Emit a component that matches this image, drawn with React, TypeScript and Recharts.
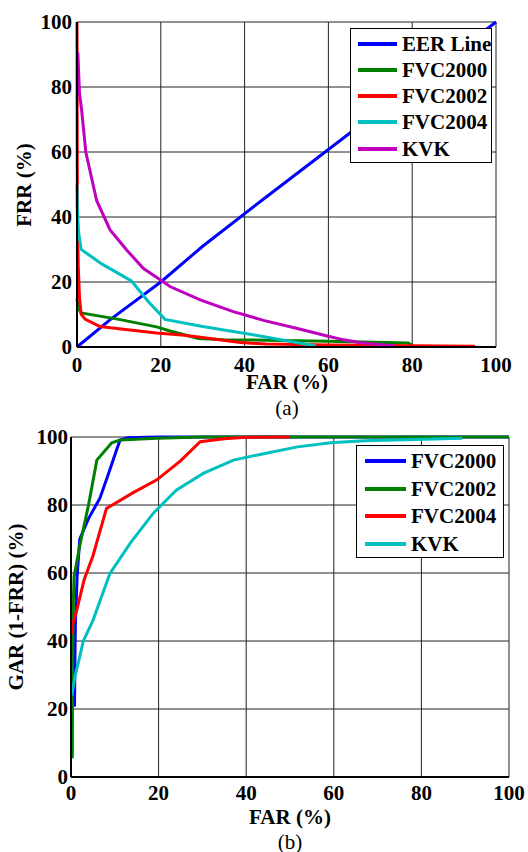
import React from 'react';
import { LineChart, Line, XAxis, YAxis, CartesianGrid } from 'recharts';

const TICKS = [0, 20, 40, 60, 80, 100];
const FONT = '"Liberation Serif", Tinos, serif';

// (a) FRR vs FAR
const eerFar = [0, 8, 20, 30, 45, 65, 100];
const eerFrr = [0, 8.5, 20, 31, 46, 65.7, 100];
const a2000Far = [0, 0.3, 1, 10, 19, 22, 29, 35, 45, 60, 79, 80];
const a2000Frr = [15, 12, 10.5, 8.5, 6.2, 5, 2.6, 2.2, 2.1, 1.8, 1.2, 0.6];
const a2002Far = [0, 0.05, 0.1, 0.3, 0.6, 1, 2, 5.5, 10, 19, 25, 29.5, 39, 45, 60, 80, 95];
const a2002Frr = [100, 60, 40, 25, 15, 10, 8.5, 6.3, 5.6, 4.3, 3.7, 3, 1.4, 0.9, 0.6, 0.4, 0.2];
const a2004Far = [0, 0.1, 0.4, 1, 6, 13, 17, 21, 30, 45, 57];
const a2004Frr = [50, 42, 35, 30, 25.5, 20.3, 14, 8.5, 6.3, 3.1, 0.3];
const aKvkFar = [0.2, 0.5, 0.6, 1.1, 2.1, 4.7, 7.9, 11.9, 15.8, 22.2, 29.4, 37.3, 44.5, 52.6, 59.7, 63.7, 67.7, 76];
const aKvkFrr = [90.6, 81, 78, 73, 60, 45, 36, 29.8, 24.2, 18.6, 14.5, 10.9, 8.2, 5.7, 3.4, 2.2, 1.3, 0.3];

// (b) GAR vs FAR
const b2000Far = [0.8, 0.9, 1, 1.4, 2, 4, 6.6, 8.5, 10.4, 11.2, 13, 20, 100];
const b2000Gar = [20.7, 35, 45, 59, 70, 76, 82, 89, 96.2, 99.1, 99.8, 100, 100];
const b2002Far = [0.3, 0.35, 0.5, 0.7, 2, 4, 5.9, 9.3, 11.2, 19.6, 30, 100];
const b2002Gar = [5.5, 30, 50, 59, 68, 80, 93.2, 98.3, 99.1, 99.6, 100, 100];
const b2004Far = [0.1, 0.4, 1.3, 3, 5, 8.1, 14, 19.6, 25, 29.5, 35, 40, 50];
const b2004Gar = [42, 45, 49, 58, 65, 79, 83.5, 87.4, 93, 98.6, 99.5, 99.9, 100];
const bKvkFar = [0.15, 0.9, 2, 2.8, 5, 8.9, 13.5, 18.8, 24.1, 30.2, 37.1, 44, 51.7, 59.3, 66.9, 78.3, 89.3];
const bKvkGar = [24, 29.5, 35.4, 40, 46, 59.9, 68.7, 77.6, 84.4, 89.3, 93.2, 95.1, 97.1, 98.3, 98.9, 99.3, 99.6];

const BLUE = '#0000ff';
const GREEN = '#008000';
const RED = '#ff0000';
const CYAN = '#00bfbf';
const MAGENTA = '#bf00bf';

const pts = (xs: number[], ys: number[]) => xs.map((x, i) => ({ x, y: ys[i] }));

const seriesA = [
  { name: 'EER Line', color: BLUE, data: pts(eerFar, eerFrr) },
  { name: 'FVC2000', color: GREEN, data: pts(a2000Far, a2000Frr) },
  { name: 'FVC2002', color: RED, data: pts(a2002Far, a2002Frr) },
  { name: 'FVC2004', color: CYAN, data: pts(a2004Far, a2004Frr) },
  { name: 'KVK', color: MAGENTA, data: pts(aKvkFar, aKvkFrr) },
];

const seriesB = [
  { name: 'FVC2000', color: BLUE, data: pts(b2000Far, b2000Gar) },
  { name: 'FVC2002', color: GREEN, data: pts(b2002Far, b2002Gar) },
  { name: 'FVC2004', color: RED, data: pts(b2004Far, b2004Gar) },
  { name: 'KVK', color: CYAN, data: pts(bKvkFar, bKvkGar) },
];

const tickStyle = { fontFamily: FONT, fontSize: 21, fontWeight: 'bold', fill: '#000' } as const;

type Series = { name: string; color: string; data: { x: number; y: number }[] };

const Plot = ({ series, margin, xTickMargin, yTickMargin }: {
  series: Series[];
  margin: { top: number; right: number; bottom: number; left: number };
  xTickMargin: number;
  yTickMargin: number;
}) => (
  <LineChart width={528} height={400} margin={margin}>
    <CartesianGrid stroke="#222" strokeWidth={1} />
    <XAxis
      type="number"
      dataKey="x"
      domain={[0, 100]}
      ticks={TICKS}
      interval={0}
      height={30}
      tick={tickStyle}
      tickLine={false}
      tickSize={0}
      tickMargin={xTickMargin}
      axisLine={{ stroke: '#000', strokeWidth: 2 }}
    />
    <YAxis
      type="number"
      dataKey="y"
      domain={[0, 100]}
      ticks={TICKS}
      interval={0}
      width={60}
      tick={tickStyle}
      tickLine={false}
      tickSize={0}
      tickMargin={yTickMargin}
      axisLine={{ stroke: '#000', strokeWidth: 2 }}
    />
    {series.map((s) => (
      <Line
        key={s.name}
        data={s.data}
        dataKey="y"
        type="linear"
        stroke={s.color}
        strokeWidth={3}
        dot={false}
        isAnimationActive={false}
      />
    ))}
  </LineChart>
);

const LegendBox = ({ series, left, top, width, height, first, step, sampleX, textX }: {
  series: Series[];
  left: number; top: number; width: number; height: number;
  first: number; step: number; sampleX: number; textX: number;
}) => (
  <div style={{
    position: 'absolute', left, top, width, height, background: '#fff',
    border: '1.5px solid #000', boxSizing: 'border-box',
  }}>
    {series.map((s, i) => (
      <div key={s.name} style={{ position: 'absolute', left: 0, top: first + i * step - 13, height: 26, width: '100%' }}>
        <div style={{ position: 'absolute', left: sampleX, top: 11, width: textX - sampleX - 5, height: 4, background: s.color }} />
        <span style={{
          position: 'absolute', left: textX, top: 0, lineHeight: '26px',
          fontFamily: FONT, fontSize: 21, fontWeight: 'bold', whiteSpace: 'nowrap',
        }}>{s.name}</span>
      </div>
    ))}
  </div>
);

const Label = ({ x, y, text, rotate, bold = true }: { x: number; y: number; text: string; rotate?: boolean; bold?: boolean }) => (
  <div style={{
    position: 'absolute', left: x, top: y, lineHeight: 1, whiteSpace: 'nowrap',
    fontFamily: FONT, fontSize: 21, fontWeight: bold ? 'bold' : 'normal',
    transform: `translate(-50%, -50%)${rotate ? ' rotate(-90deg)' : ''}`,
  }}>{text}</div>
);

export default function App() {
  return (
    <div style={{ position: 'absolute', left: 0, top: 0, width: 528, height: 852, background: '#fff', overflow: 'hidden', fontFamily: FONT }}>
      <div style={{ position: 'absolute', left: 0, top: 0 }}>
        <Plot series={seriesA} margin={{ top: 22, right: 32, bottom: 23, left: 17 }} xTickMargin={10} yTickMargin={5} />
      </div>
      <LegendBox series={seriesA} left={350} top={28} width={142} height={135} first={14.5} step={26.3} sampleX={7} textX={51} />
      <Label x={24} y={184.5} text="FRR (%)" rotate />
      <Label x={287} y={382} text="FAR (%)" />
      <Label x={287} y={408} text="(a)" bold={false} />

      <div style={{ position: 'absolute', left: 0, top: 420 }}>
        <Plot series={seriesB} margin={{ top: 17, right: 19, bottom: 13, left: 11 }} xTickMargin={8} yTickMargin={3} />
      </div>
      <LegendBox series={seriesB} left={356} top={445} width={148} height={113} first={15} step={27.5} sampleX={8} textX={54} />
      <Label x={16} y={607} text="GAR (1-FRR) (%)" rotate />
      <Label x={290} y={817} text="FAR (%)" />
      <Label x={290} y={842} text="(b)" bold={false} />
    </div>
  );
}
